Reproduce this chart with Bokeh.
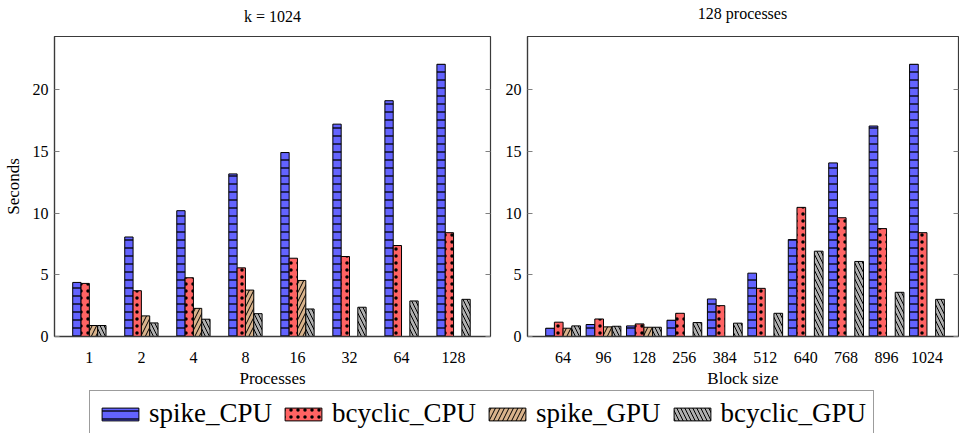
import numpy as np
from bokeh.plotting import figure
from bokeh.models import (Range1d, FixedTicker, LinearAxis, Legend, LegendItem,
                          CustomLabelingPolicy, Label)
from bokeh.layouts import column, row
from bokeh.embed import file_html
from bokeh.resources import INLINE

# ---------------- data ----------------
processes = ["1", "2", "4", "8", "16", "32", "64", "128"]
k_spike_cpu = [4.38, 8.06, 10.19, 13.17, 14.9, 17.2, 19.1, 22.05]
k_bcyclic_cpu = [4.30, 3.71, 4.76, 5.56, 6.34, 6.48, 7.37, 8.41]
k_spike_gpu = [0.89, 1.67, 2.28, 3.76, 4.54, None, None, None]
k_bcyclic_gpu = [0.89, 1.10, 1.40, 1.85, 2.23, 2.37, 2.88, 3.01]

block_sizes = ["64", "96", "128", "256", "384", "512", "640", "768", "896", "1024"]
b_spike_cpu = [0.67, 0.97, 0.86, 1.32, 3.04, 5.13, 7.85, 14.06, 17.05, 22.05]
b_bcyclic_cpu = [1.16, 1.42, 1.02, 1.88, 2.50, 3.90, 10.46, 9.62, 8.74, 8.41]
b_spike_gpu = [0.67, 0.78, 0.75, None, None, None, None, None, None, None]
b_bcyclic_gpu = [0.86, 0.83, 0.75, 1.13, 1.08, 1.88, 6.91, 6.08, 3.58, 3.01]

series_names = ["spike_CPU", "bcyclic_CPU", "spike_GPU", "bcyclic_GPU"]
titles = ["k = 1024", "128 processes"]
y_ticks = [0, 5, 10, 15, 20]

# ---------------- styles ----------------
FONT = "Liberation Serif"
STYLES = [
    dict(fill_color="#6363ff", hatch_pattern="horizontal_line", hatch_scale=8, hatch_weight=1.3),
    dict(fill_color="#ff6363", hatch_pattern="dot", hatch_scale=7, hatch_weight=2.6),
    dict(fill_color="#d9b38c", hatch_pattern="right_diagonal_line", hatch_scale=9, hatch_weight=1.0),
    dict(fill_color="#b0b0b0", hatch_pattern="left_diagonal_line", hatch_scale=8, hatch_weight=1.0),
]
FRAME = "#3a3a3a"

HIDE_ALL = CustomLabelingPolicy(code="""
    const all = [...indices]
    for (const i of all) indices.unset(i)
    return indices
""")


def panel(cats, series, bar_w, x0, x1, width, height, mb_left, mb_right, xlabel, ylabel):
    p = figure(width=width, height=height, toolbar_location=None, output_backend="svg",
               x_range=Range1d(x0, x1), y_range=Range1d(0, 24.3),
               min_border_left=mb_left, min_border_right=mb_right,
               min_border_top=1, min_border_bottom=53)
    p.grid.visible = False
    p.outline_line_color = FRAME
    p.outline_line_width = 1.2
    p.background_fill_color = "white"
    p.border_fill_color = "white"

    idx = np.arange(len(cats))
    offsets = [-1.5, -0.5, 0.5, 1.5]
    for vals, st, off in zip(series, STYLES, offsets):
        xs = [float(i) + off * bar_w for i, v in zip(idx, vals) if v is not None]
        ys = [v for v in vals if v is not None]
        p.vbar(x=xs, top=ys, bottom=0, width=bar_w, line_color="black", line_width=1,
               hatch_color="black", **st)

    xa = p.xaxis[0]
    xa.ticker = FixedTicker(ticks=[int(i) for i in idx])
    xa.major_label_overrides = {int(i): c for i, c in zip(idx, cats)}
    xa.major_tick_line_color = None
    xa.minor_tick_line_color = None
    xa.major_label_standoff = 9
    xa.major_label_text_font = FONT
    xa.major_label_text_font_size = "16px"
    xa.major_label_text_color = "black"
    xa.axis_label = xlabel
    xa.axis_label_standoff = 3
    xa.axis_label_text_font = FONT
    xa.axis_label_text_font_size = "17px"
    xa.axis_label_text_font_style = "normal"
    xa.axis_label_text_color = "black"
    xa.axis_line_color = FRAME
    xa.axis_line_width = 1.6

    ya = p.yaxis[0]
    ya.ticker = FixedTicker(ticks=y_ticks)
    ya.major_tick_in = 5
    ya.major_tick_out = 0
    ya.major_tick_line_color = "#808080"
    ya.minor_tick_line_color = None
    ya.major_label_standoff = 6
    ya.major_label_text_font = FONT
    ya.major_label_text_font_size = "16px"
    ya.major_label_text_color = "black"
    ya.axis_line_color = FRAME
    ya.axis_line_width = 1.2
    if ylabel:
        ya.axis_label = ylabel
        ya.axis_label_standoff = 7
        ya.axis_label_text_font = FONT
        ya.axis_label_text_font_size = "17px"
        ya.axis_label_text_font_style = "normal"
        ya.axis_label_text_color = "black"

    ra = LinearAxis(ticker=FixedTicker(ticks=y_ticks), major_label_policy=HIDE_ALL,
                    major_label_text_font_size="0px",
                    major_label_standoff=0, major_tick_in=5, major_tick_out=0,
                    major_tick_line_color="#808080", minor_tick_line_color=None,
                    axis_line_color=None)
    p.add_layout(ra, "right")
    return p


p1 = panel(processes, [k_spike_cpu, k_bcyclic_cpu, k_spike_gpu, k_bcyclic_gpu], 0.16,
           -0.67, 7.71, 498, 355, 54, 8, "Processes", "Seconds")
p2 = panel(block_sizes, [b_spike_cpu, b_bcyclic_cpu, b_spike_gpu, b_bcyclic_gpu], 0.215,
           -0.88, 9.78, 461, 355, 29, 1, "Block size", None)

# ---------------- title strip (pixel coordinates of the page) ----------------
pt = figure(width=959, height=35, toolbar_location=None, output_backend="svg",
            x_range=Range1d(0, 959), y_range=Range1d(35, 0),
            x_axis_location=None, y_axis_location=None, min_border=0)
pt.grid.visible = False
pt.outline_line_color = None
for text, cx, cy in zip(titles, [272, 742], [16, 12.5]):
    pt.add_layout(Label(x=cx, y=cy, text=text, text_align="center", text_baseline="middle",
                        text_font=FONT, text_font_size="16px", text_color="black"))

# ---------------- legend strip ----------------
pl = figure(width=959, height=43, toolbar_location=None, output_backend="svg",
            x_range=Range1d(0, 1), y_range=Range1d(0, 1),
            x_axis_location=None, y_axis_location=None, min_border=0)
pl.grid.visible = False
pl.outline_line_color = None
items = []
for name, st in zip(series_names, STYLES):
    # placed outside the visible range: only its legend swatch is shown
    r = pl.vbar(x=[5], top=[1], bottom=0, width=0.1, line_color="black", line_width=1,
                hatch_color="black", **st)
    items.append(LegendItem(label=name, renderers=[r]))
leg = Legend(items=items, orientation="horizontal", location=(89, -4),
             glyph_width=46, glyph_height=16, label_standoff=6, spacing=8, padding=7,
             margin=0, label_text_font=FONT, label_text_font_size="27px",
             label_text_color="black", border_line_color=FRAME, border_line_width=1.2,
             background_fill_alpha=1)
pl.add_layout(leg)

layout = column(pt, row(p1, p2), pl)
open("out.html", "w").write(file_html(layout, INLINE))
